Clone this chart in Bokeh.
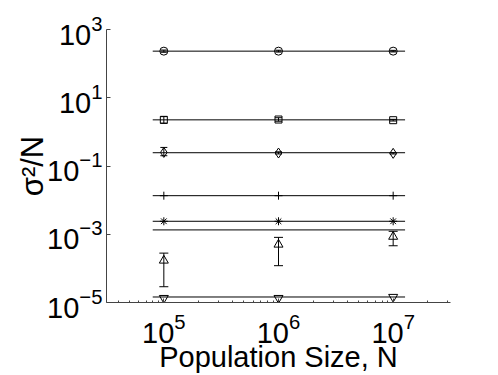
from bokeh.plotting import figure
from bokeh.models import FixedTicker, Whisker, ColumnDataSource, TeeHead
from bokeh.embed import file_html
from bokeh.resources import INLINE

# Data
N = [1e5, 1e6, 1e7]
line_x = [8e4, 1.27e7]

circle_y = [232, 232, 232]
circle_lo = [215, 218, 220]
circle_hi = [250, 247, 245]

square_y = [2.25, 2.3, 2.2]
square_lo = [1.8, 2.05, 2.08]
square_hi = [2.8, 2.6, 2.33]

diamond_y = [0.25, 0.24, 0.235]
diamond_lo = [0.2, 0.225, 0.225]
diamond_hi = [0.35, 0.26, 0.245]

plus_y = [0.0135, 0.0135, 0.0135]
aster_y = [0.0024, 0.0024, 0.0024]
theory_y = 0.00134

tri_y = [1.7e-4, 5.0e-4, 8.5e-4]
tri_lo = [2.9e-5, 1.2e-4, 4.6e-4]
tri_hi = [2.8e-4, 8.1e-4, 1.22e-3]

itri_y = [1.35e-5, 1.35e-5, 1.45e-5]
itri_line = 1.45e-5

line_levels = [232, 2.25, 0.245, 0.0135, 0.0024, theory_y, itri_line]

x_ticks = [1e5, 1e6, 1e7]
y_ticks = [1e-5, 1e-3, 1e-1, 1e1, 1e3]

FONT = "Liberation Sans"

p = figure(x_axis_type="log", y_axis_type="log",
           x_range=(10**4.5, 10**7.5), y_range=(1e-5, 1e3),
           frame_width=344, frame_height=273,
           min_border_left=106, min_border_top=29, min_border_right=40, min_border_bottom=60,
           output_backend="svg", toolbar_location=None)
p.outline_line_color = None
p.xgrid.visible = False
p.ygrid.visible = False
p.background_fill_color = "white"
p.border_fill_color = "white"

minor_x = []
for e in range(4, 8):
    for m in range(2, 10):
        v = m * 10**e
        if 10**4.5 <= v <= 10**7.5:
            minor_x.append(v)

p.xaxis.ticker = FixedTicker(ticks=x_ticks, minor_ticks=minor_x)
p.yaxis.ticker = FixedTicker(ticks=y_ticks, minor_ticks=[])

for ax in (p.xaxis, p.yaxis):
    ax.axis_line_color = "#444444"
    ax.major_tick_line_color = "#444444"
    ax.minor_tick_line_color = "#444444"
    ax.major_tick_in = 4
    ax.major_tick_out = 0
    ax.minor_tick_in = 2
    ax.minor_tick_out = 0
    ax.major_label_text_font = FONT
    ax.major_label_text_font_size = "29px"
    ax.major_label_text_color = "black"
    ax.axis_label_text_font = FONT
    ax.axis_label_text_font_size = "29px"
    ax.axis_label_text_font_style = "normal"
    ax.axis_label_text_color = "black"

p.xaxis.axis_label = "Population Size, N"
p.yaxis.axis_label = "σ²/N"
p.yaxis.axis_label_text_font_size = "31px"
p.xaxis.major_label_standoff = 10
p.xaxis.axis_label_standoff = -5
p.yaxis.major_label_standoff = 4
p.yaxis.axis_label_standoff = -6

# horizontal lines
for lv in line_levels:
    p.line(line_x, [lv, lv], line_color="black", line_width=1)

def errbars(y, lo, hi, size):
    src = ColumnDataSource(dict(x=N, lo=lo, hi=hi))
    w = Whisker(source=src, base="x", lower="lo", upper="hi", dimension="height",
                line_color="black", line_width=1,
                upper_head=TeeHead(size=size, line_color="black", line_width=1),
                lower_head=TeeHead(size=size, line_color="black", line_width=1))
    p.add_layout(w)

errbars(circle_y, circle_lo, circle_hi, 6)
errbars(square_y, square_lo, square_hi, 7)
errbars(diamond_y, diamond_lo, diamond_hi, 7)
errbars(tri_y, tri_lo, tri_hi, 9)

ms = 8
p.scatter(N, circle_y, marker="circle", size=ms, line_color="black", fill_color=None)
p.scatter(N, square_y, marker="square", size=ms - 1, line_color="black", fill_color=None)
p.scatter(N, diamond_y, marker="diamond", size=ms + 2, line_color="black", fill_color=None)
p.scatter(N, plus_y, marker="cross", size=ms, line_color="black")
p.scatter(N, aster_y, marker="asterisk", size=ms, line_color="black")
p.scatter(N, tri_y, marker="triangle", size=ms + 1, line_color="black", fill_color=None)
p.scatter(N, itri_y, marker="inverted_triangle", size=ms + 1, line_color="black", fill_color=None)

open("out.html", "w").write(file_html(p, INLINE))
